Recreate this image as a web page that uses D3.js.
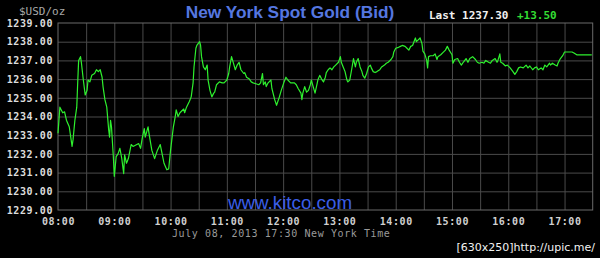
<!DOCTYPE html>
<html>
<head>
<meta charset="utf-8">
<script src="https://cdn.jsdelivr.net/npm/d3@7"></script>
<style>
  html, body { margin: 0; padding: 0; background: #000; }
  svg { display: block; }
</style>
</head>
<body>
<div id="chart"></div>
<script>
// minutes after 08:00 New York time, and the bid at that minute
const minuteOfSession = [
  0, 2, 5, 7, 9, 12, 15, 16, 18, 20, 21, 22, 24, 25, 27, 29, 31, 32, 34, 36,
  39, 41, 43, 45, 47, 48, 50, 52, 54, 55, 56, 57, 59, 60, 62, 64, 66, 68, 70, 71,
  73, 75, 78, 80, 84, 86, 88, 90, 92, 93, 96, 97, 100, 103, 106, 109, 111, 113, 116, 118,
  120, 123, 125, 126, 128, 130, 134, 135, 137, 140, 142, 144, 145, 147, 148, 151, 152, 153, 155, 157,
  159, 160, 162, 164, 166, 167, 169, 172, 175, 177, 180, 182, 183, 185, 187, 189, 191, 193, 195, 198,
  199, 201, 204, 206, 208, 211, 214, 216, 218, 219, 221, 222, 224, 227, 228, 231, 233, 236, 238, 241,
  243, 245, 248, 252, 254, 256, 259, 260, 261, 263, 265, 267, 269, 270, 272, 274, 276, 277, 279, 281,
  283, 285, 286, 288, 290, 292, 294, 296, 299, 301, 302, 304, 306, 308, 309, 311, 313, 315, 317, 318,
  320, 322, 324, 325, 327, 329, 331, 333, 334, 336, 338, 340, 343, 345, 348, 350, 352, 355, 357, 358,
  360, 363, 365, 367, 370, 372, 374, 376, 378, 381, 382, 384, 386, 388, 389, 391, 393, 394, 395, 397,
  400, 402, 404, 405, 408, 410, 413, 415, 417, 420, 421, 423, 426, 428, 430, 432, 435, 437, 439, 442,
  445, 447, 449, 452, 454, 456, 459, 461, 463, 466, 468, 469, 471, 472, 474, 477, 479, 482, 485, 487,
  489, 491, 493, 496, 499, 501, 503, 506, 508, 510, 512, 515, 517, 519, 521, 524, 525, 527, 530, 532,
  533, 535, 538, 540, 543, 545, 548, 550, 553, 556, 562, 569
];
const bid = [
  1233.10, 1234.50, 1234.20, 1234.25, 1233.80, 1233.45, 1232.40, 1232.75, 1233.80, 1234.50, 1235.80, 1237.00, 1237.20, 1236.85, 1235.95, 1235.15, 1235.40, 1235.95, 1235.85, 1236.20,
  1236.30, 1236.50, 1236.40, 1236.50, 1236.10, 1235.60, 1234.90, 1234.50, 1233.30, 1232.90, 1233.80, 1233.45, 1231.85, 1230.80, 1231.85, 1232.00, 1232.30, 1231.75, 1230.95, 1231.95,
  1231.50, 1231.75, 1232.50, 1232.40, 1232.50, 1232.55, 1232.30, 1232.90, 1233.35, 1232.90, 1233.45, 1233.10, 1232.20, 1231.75, 1232.20, 1232.50, 1232.00, 1231.50, 1231.15, 1231.20,
  1232.20, 1233.45, 1234.00, 1234.35, 1234.00, 1234.20, 1234.40, 1234.20, 1234.50, 1234.80, 1235.05, 1235.80, 1236.65, 1237.65, 1237.80, 1238.00, 1237.80, 1237.20, 1236.65, 1236.50,
  1236.75, 1235.95, 1235.40, 1235.05, 1235.25, 1235.30, 1235.70, 1235.85, 1235.80, 1235.80, 1235.95, 1236.30, 1236.65, 1237.20, 1236.85, 1236.50, 1236.75, 1236.90, 1236.50, 1236.30,
  1236.35, 1236.10, 1236.00, 1235.85, 1235.80, 1235.75, 1235.70, 1235.80, 1236.30, 1235.70, 1235.85, 1235.60, 1235.80, 1235.95, 1235.50, 1234.90, 1234.60, 1235.05, 1235.40, 1235.85,
  1236.10, 1235.95, 1235.80, 1235.80, 1235.70, 1235.50, 1235.25, 1234.90, 1235.25, 1235.60, 1235.30, 1235.40, 1235.70, 1235.95, 1235.60, 1235.25, 1235.70, 1235.95, 1236.20, 1236.00,
  1235.85, 1236.10, 1236.35, 1236.50, 1236.60, 1236.50, 1236.65, 1236.75, 1236.90, 1237.20, 1236.90, 1236.65, 1236.40, 1235.95, 1235.85, 1235.95, 1236.50, 1237.10, 1236.65, 1236.90,
  1237.10, 1236.65, 1236.40, 1236.20, 1236.05, 1236.30, 1236.65, 1236.75, 1236.60, 1236.40, 1236.35, 1236.40, 1236.50, 1236.65, 1236.75, 1236.85, 1236.90, 1237.05, 1237.20, 1237.45,
  1237.65, 1237.70, 1237.75, 1237.80, 1237.75, 1237.65, 1237.55, 1237.75, 1237.80, 1238.20, 1238.00, 1238.10, 1238.20, 1237.90, 1237.50, 1237.35, 1237.00, 1236.60, 1237.20, 1237.25,
  1237.25, 1237.35, 1237.05, 1237.20, 1237.30, 1237.40, 1237.55, 1237.75, 1237.55, 1237.30, 1236.85, 1237.05, 1237.10, 1236.90, 1236.75, 1236.90, 1237.10, 1236.90, 1237.10, 1237.20,
  1237.05, 1236.90, 1236.85, 1236.90, 1236.85, 1237.00, 1236.90, 1236.85, 1237.00, 1237.10, 1236.90, 1237.00, 1237.35, 1236.90, 1236.85, 1236.70, 1236.75, 1236.60, 1236.40, 1236.25,
  1236.40, 1236.60, 1236.65, 1236.60, 1236.75, 1236.60, 1236.70, 1236.50, 1236.60, 1236.65, 1236.50, 1236.60, 1236.50, 1236.75, 1236.65, 1236.85, 1236.75, 1236.85, 1236.75, 1236.70,
  1236.85, 1237.05, 1237.25, 1237.45, 1237.45, 1237.45, 1237.45, 1237.40, 1237.30, 1237.30, 1237.30, 1237.30
];

const priceTicks = [1229, 1230, 1231, 1232, 1233, 1234, 1235, 1236, 1237, 1238, 1239];
const hourLabels = ['08:00', '09:00', '10:00', '11:00', '12:00', '13:00', '14:00', '15:00', '16:00', '17:00'];
const sessionLength = 570; // 08:00 .. 17:30

const title = 'New York Spot Gold (Bid)';
const unitLabel = '$USD/oz';
const lastLabel = 'Last 1237.30';
const changeLabel = '+13.50';
const stampLabel = 'July 08, 2013 17:30 New York Time';
const siteLabel = 'www.kitco.com';
const hostLabel = '[630x250]http://upic.me/';

const mono = '"DejaVu Sans Mono", monospace';
const plot = { left: 58, right: 592.7, top: 23, bottom: 210 };

const svg = d3.select('#chart')
  .append('svg')
  .attr('width', 600)
  .attr('height', 258)
  .style('background', '#000');

const x = d3.scaleLinear()
  .domain([0, sessionLength])
  .range([plot.left, plot.right]);
const y = d3.scaleLinear()
  .domain([1229, 1239])
  .range([plot.bottom, plot.top]);

// grid: half-hour verticals, one-dollar horizontals
const halfHours = d3.range(30, sessionLength, 30);
svg.append('g')
  .attr('class', 'grid')
  .attr('transform', `translate(0, ${plot.bottom})`)
  .call(d3.axisBottom(x).tickValues(halfHours).tickSize(-(plot.bottom - plot.top)).tickFormat(''))
  .call(g => g.select('.domain').remove())
  .selectAll('line')
  .attr('stroke', '#4a4a4a');

svg.append('g')
  .attr('class', 'grid')
  .attr('transform', `translate(${plot.left}, 0)`)
  .call(d3.axisLeft(y).tickValues(priceTicks.slice(1, -1)).tickSize(-(plot.right - plot.left)).tickFormat(''))
  .call(g => g.select('.domain').remove())
  .selectAll('line')
  .attr('stroke', '#4a4a4a');

svg.append('rect')
  .attr('x', plot.left)
  .attr('y', plot.top)
  .attr('width', plot.right - plot.left)
  .attr('height', plot.bottom - plot.top)
  .attr('fill', 'none')
  .attr('stroke', '#6a6a6a');

// axes labels: 10px mono with a little spacing, so the stacked rows don't collide
const yAxis = svg.append('g')
  .attr('transform', `translate(${plot.left}, 0)`)
  .call(d3.axisLeft(y).tickValues(priceTicks).tickSize(0).tickPadding(5).tickFormat(d3.format('.2f')));
yAxis.select('.domain').remove();
yAxis.selectAll('text')
  .attr('fill', '#dcdcdc')
  .attr('font-family', mono)
  .attr('font-weight', 'bold')
  .attr('font-size', '10px')
  .attr('letter-spacing', '0.6px');

const xAxis = svg.append('g')
  .attr('transform', `translate(0, ${plot.bottom})`)
  .call(d3.axisBottom(x).tickValues(hourLabels.map((h, i) => i * 60)).tickSize(0).tickPadding(8)
    .tickFormat((d, i) => hourLabels[i]));
xAxis.select('.domain').remove();
xAxis.selectAll('text')
  .attr('fill', '#d0d0d0')
  .attr('font-family', mono)
  .attr('font-weight', 'bold')
  .attr('font-size', '10px')
  .attr('letter-spacing', '0.6px');

// the bid line
const points = minuteOfSession.map((m, i) => [m, bid[i]]);
const line = d3.line()
  .x(d => x(d[0]))
  .y(d => y(d[1]));
svg.append('path')
  .attr('d', line(points))
  .attr('fill', 'none')
  .attr('stroke', '#2ef02e')
  .attr('stroke-width', 1.2)
  .attr('stroke-linejoin', 'round');

// texts
svg.append('text')
  .attr('x', 290).attr('y', 18)
  .attr('text-anchor', 'middle')
  .attr('font-family', '"Liberation Sans", Arial, sans-serif')
  .attr('font-weight', 'bold')
  .attr('font-size', '17.3px')
  .attr('fill', '#5577e0')
  .text(title);

svg.append('text')
  .attr('x', 19).attr('y', 15)
  .attr('font-family', mono)
  .attr('font-size', '11px')
  .attr('fill', '#a8a8a8')
  .text(unitLabel);

svg.append('text')
  .attr('x', 429).attr('y', 19)
  .attr('font-family', mono)
  .attr('font-weight', 'bold')
  .attr('font-size', '11px')
  .attr('fill', '#f0f0f0')
  .text(lastLabel);

svg.append('text')
  .attr('x', 517).attr('y', 19)
  .attr('font-family', mono)
  .attr('font-weight', 'bold')
  .attr('font-size', '11px')
  .attr('fill', '#33dd33')
  .text(changeLabel);

svg.append('text')
  .attr('x', 290).attr('y', 209)
  .attr('text-anchor', 'middle')
  .attr('font-family', '"Liberation Sans", Arial, sans-serif')
  .attr('font-size', '18.8px')
  .attr('fill', '#3b5ee6')
  .text(siteLabel);

svg.append('text')
  .attr('x', 172).attr('y', 237)
  .attr('font-family', mono)
  .attr('font-size', '10px')
  .attr('letter-spacing', '0.6px')
  .attr('fill', '#9a9a9a')
  .text(stampLabel);

svg.append('text')
  .attr('x', 595).attr('y', 251)
  .attr('text-anchor', 'end')
  .attr('font-family', '"DejaVu Sans", sans-serif')
  .attr('font-size', '11px')
  .attr('fill', '#f2f2f2')
  .text(hostLabel);
</script>
</body>
</html>
